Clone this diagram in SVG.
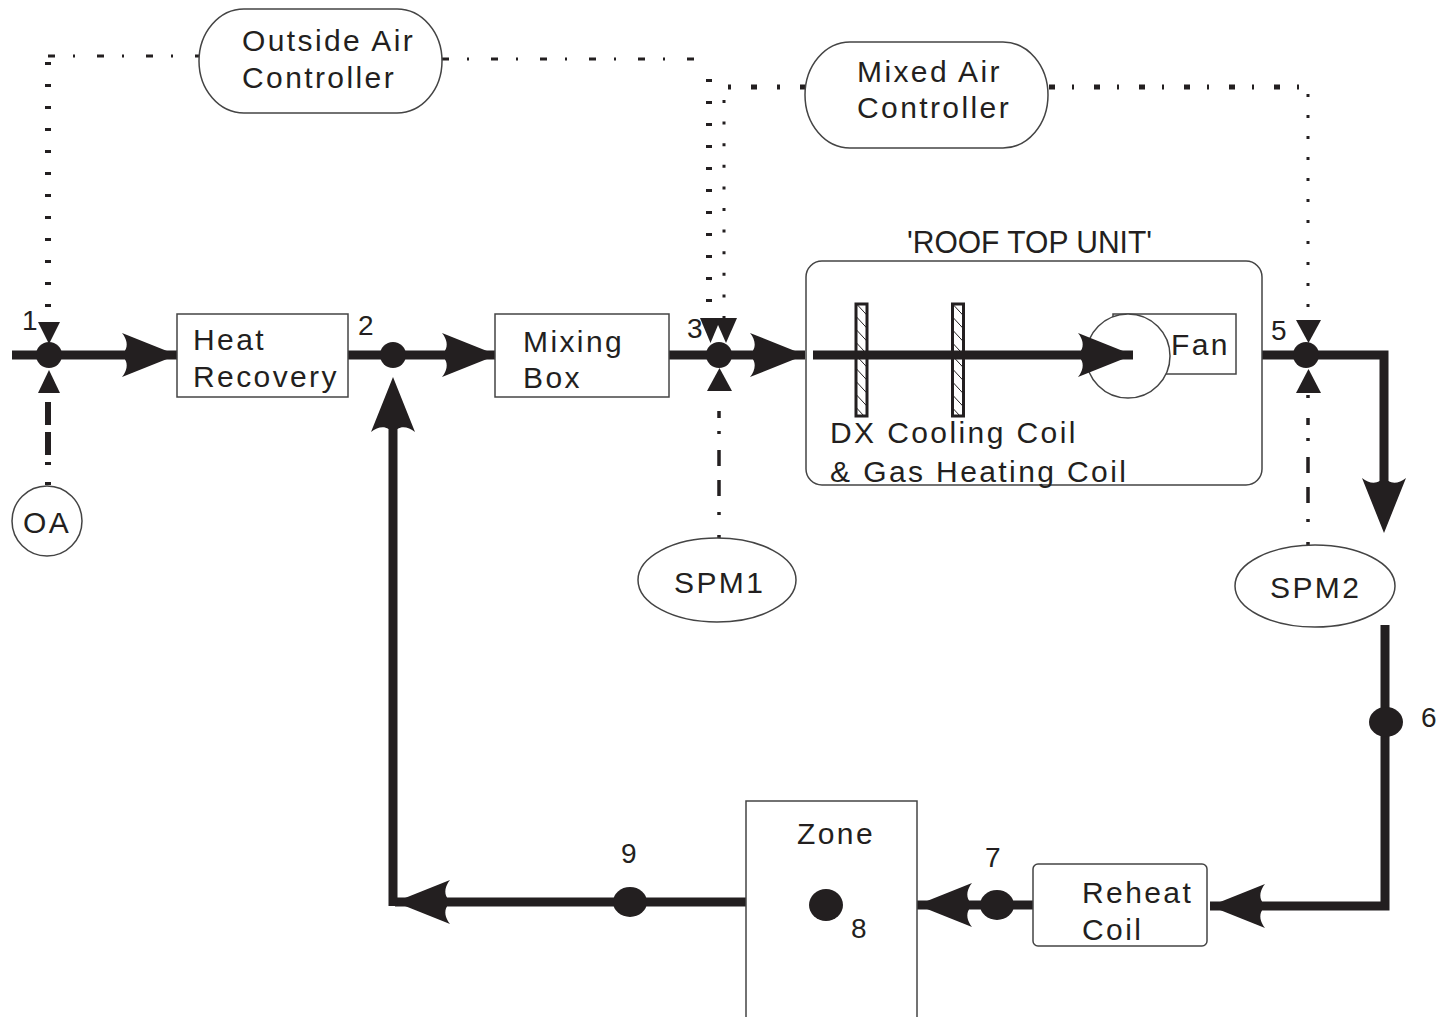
<svg xmlns="http://www.w3.org/2000/svg" width="1447" height="1017" viewBox="0 0 1447 1017">
<style>
text{font-family:"Liberation Sans",Arial,sans-serif;fill:#231f20}
.lbl{font-size:30px;letter-spacing:2.4px}
.num{font-size:28px}
.box{fill:#fff;stroke:#444;stroke-width:1.5}
.pipe{fill:none;stroke:#231f20;stroke-width:9}
.ah{fill:#231f20}
.blob{fill:#231f20}
.ctl{fill:none;stroke:#231f20}
.tri{fill:#231f20}
</style>
<defs>
<path id="ah" d="M0,0 L-55,-22 C-50,-16 -49,-9 -52,-4.5 L-52,4.5 C-49,9 -50,16 -55,22 Z"/>
<pattern id="hatch" patternUnits="userSpaceOnUse" width="12" height="13">
<line x1="0" y1="0" x2="12" y2="13" stroke="#231f20" stroke-width="1"/>
</pattern>
</defs>

<g id="control-lines">
<path class="ctl" d="M48,56 H200" stroke-width="3" stroke-dasharray="7 18 2 22"/>
<path class="ctl" d="M48,62 V320" stroke-width="6" stroke-dasharray="3 19"/>
<path class="ctl" d="M48,485 V395" stroke-width="6" stroke-dasharray="3 17 3 7 23 7 23 10"/>
<path class="ctl" d="M442,59 H709" stroke-width="3" stroke-dasharray="7 18 2 22"/>
<path class="ctl" d="M709,79 V318" stroke-width="6" stroke-dasharray="3 19"/>
<path class="ctl" d="M728,87 H805" stroke-width="5" stroke-dasharray="3 20 6 20"/>
<path class="ctl" d="M724,100 V318" stroke-width="3" stroke-dasharray="3 18.6"/>
<path class="ctl" d="M1049,87 H1308" stroke-width="5" stroke-dasharray="6 17 2 20"/>
<path class="ctl" d="M1308,94 V320" stroke-width="3" stroke-dasharray="3 18"/>
<path class="ctl" d="M719,538 V393" stroke-width="3.5" stroke-dasharray="3 20 3 16 16 14 16 16 3 13 7 20"/>
<path class="ctl" d="M1308,545 V393" stroke-width="3.5" stroke-dasharray="3 20 3 16 16 14 16 16 3 13 7 20"/>
</g>

<g id="connectors">
<path class="pipe" d="M12,355 H177"/>
<path class="pipe" d="M348,355 H497"/>
<path class="pipe" d="M669,355 H805"/>
<path class="pipe" d="M1236,355 H1384 V485"/>
<path class="pipe" d="M1385,625 V906 H1210"/>
<path class="pipe" d="M1033,905 H917"/>
<path class="pipe" d="M746,902 H395"/>
<path class="pipe" d="M393,906 V420"/>
<use href="#ah" class="ah" transform="translate(177,355)"/>
<use href="#ah" class="ah" transform="translate(497,355)"/>
<use href="#ah" class="ah" transform="translate(805,355)"/>
<use href="#ah" class="ah" transform="translate(1384,533) rotate(90)"/>
<use href="#ah" class="ah" transform="translate(1210,906) rotate(180)"/>
<use href="#ah" class="ah" transform="translate(917,905) rotate(180)"/>
<use href="#ah" class="ah" transform="translate(395,902) rotate(180)"/>
<use href="#ah" class="ah" transform="translate(393,377) rotate(-90)"/>
</g>

<g id="outside-air-controller">
<rect class="box" x="199" y="9" width="243" height="104" rx="45" ry="52"/>
<text class="lbl" x="242" y="51">Outside Air</text>
<text class="lbl" x="242" y="88">Controller</text>
</g>

<g id="mixed-air-controller">
<rect class="box" x="805" y="42" width="243" height="106" rx="45" ry="53"/>
<text class="lbl" x="857" y="82">Mixed Air</text>
<text class="lbl" x="857" y="118">Controller</text>
</g>

<g id="oa">
<circle class="box" cx="47" cy="521" r="35"/>
<text class="lbl" x="47" y="533" text-anchor="middle" letter-spacing="1">OA</text>
</g>

<g id="node1">
<text class="num" x="22" y="330">1</text>
<polygon class="tri" points="38,322 60,322 49,344"/>
<polygon class="tri" points="38,393 60,393 49,370"/>
<circle class="blob" cx="49" cy="355" r="13"/>
</g>

<g id="heat-recovery">
<rect class="box" x="177" y="314" width="171" height="83"/>
<text class="lbl" x="193" y="350">Heat</text>
<text class="lbl" x="193" y="387">Recovery</text>
</g>

<g id="node2">
<text class="num" x="358" y="335">2</text>
<circle class="blob" cx="393" cy="355" r="13"/>
</g>

<g id="mixing-box">
<rect class="box" x="495" y="314" width="174" height="83"/>
<text class="lbl" x="523" y="352">Mixing</text>
<text class="lbl" x="523" y="388">Box</text>
</g>

<g id="node3">
<text class="num" x="687" y="338">3</text>
<polygon class="tri" points="700,318 721,318 710.5,343"/>
<polygon class="tri" points="715,318 737,318 726,343"/>
<polygon class="tri" points="707,391 732,391 719.5,368"/>
<circle class="blob" cx="719" cy="355" r="13"/>
</g>

<g id="spm1">
<ellipse class="box" cx="717" cy="580" rx="79" ry="42"/>
<text class="lbl" x="674" y="593" letter-spacing="2.8">SPM1</text>
</g>

<g id="roof-top-unit">
<text x="907" y="253" font-size="31" textLength="245" lengthAdjust="spacingAndGlyphs">'ROOF TOP UNIT'</text>
<rect class="box" x="806" y="261" width="456" height="224" rx="16"/>
<rect x="856" y="304" width="11" height="112" fill="url(#hatch)" stroke="#231f20" stroke-width="3"/>
<rect x="952.5" y="304" width="11" height="112" fill="url(#hatch)" stroke="#231f20" stroke-width="3"/>
<rect class="box" x="1113" y="314" width="123" height="60"/>
<circle class="box" cx="1128" cy="356" r="42"/>
<text class="lbl" x="1171" y="355" letter-spacing="2">Fan</text>
<path class="pipe" d="M813,355 H1133"/>
<use href="#ah" class="ah" transform="translate(1133,355)"/>
<text class="lbl" x="830" y="443" letter-spacing="2.6">DX Cooling Coil</text>
<text class="lbl" x="830" y="482" letter-spacing="2.6">&amp; Gas Heating Coil</text>
</g>

<g id="node5">
<text class="num" x="1271" y="340">5</text>
<polygon class="tri" points="1296,320 1321,320 1308.5,343"/>
<polygon class="tri" points="1296,393 1321,393 1308.5,369"/>
<circle class="blob" cx="1306" cy="355" r="13"/>
</g>

<g id="spm2">
<ellipse class="box" cx="1315" cy="586" rx="80" ry="41"/>
<text class="lbl" x="1270" y="598" letter-spacing="2.8">SPM2</text>
</g>

<g id="node6">
<ellipse class="blob" cx="1386" cy="722" rx="17" ry="15"/>
<text class="num" x="1421" y="727">6</text>
</g>

<g id="reheat-coil">
<rect class="box" x="1033" y="864" width="174" height="82" rx="5"/>
<text class="lbl" x="1082" y="903">Reheat</text>
<text class="lbl" x="1082" y="940">Coil</text>
</g>

<g id="node7">
<ellipse class="blob" cx="997" cy="905" rx="17" ry="15"/>
<text class="num" x="985" y="867">7</text>
</g>

<g id="zone">
<rect class="box" x="746" y="801" width="171" height="230"/>
<text class="lbl" x="797" y="844" letter-spacing="2">Zone</text>
</g>

<g id="node8">
<ellipse class="blob" cx="826" cy="905" rx="17" ry="16"/>
<text class="num" x="851" y="938">8</text>
</g>

<g id="node9">
<ellipse class="blob" cx="630" cy="902" rx="17" ry="15"/>
<text class="num" x="621" y="863">9</text>
</g>
</svg>
